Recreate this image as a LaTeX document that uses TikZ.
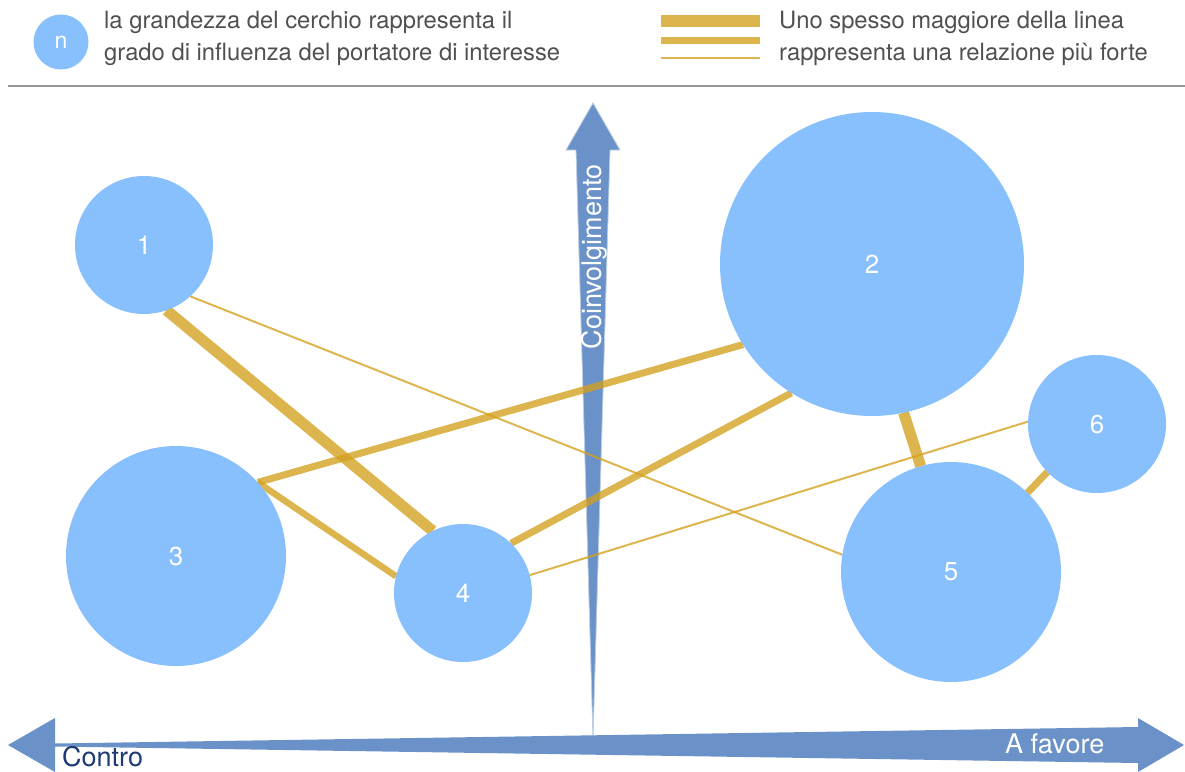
\documentclass[tikz,border=0pt]{standalone}
\usepackage{fontspec}
\setmainfont{TeX Gyre Heros}
\usepackage{tikz}
\usetikzlibrary{positioning}
\pgfdeclarelayer{axes}
\pgfdeclarelayer{background}
\pgfsetlayers{axes,background,main}
\definecolor{bubbleblue}{HTML}{88BFFD}
\definecolor{axisblue}{HTML}{6A92C8}
\definecolor{linkgold}{RGB}{212,160,30}
\definecolor{controblue}{HTML}{1F3B73}
\definecolor{legendgray}{HTML}{505050}

\begin{document}
\begin{tikzpicture}[x=1pt,y=-1pt,
							bubble/.style={circle, fill=bubbleblue, inner sep=0pt, outer sep=0pt, text=white, font=\fontsize{26}{26}\selectfont},
							link/.style={draw=linkgold, draw opacity=0.78},
							legendtext/.style={anchor=north west, align=left, inner sep=0pt, text=legendgray, font=\fontsize{23.8}{32}\selectfont},
							axislabel/.style={inner sep=0pt, font=\fontsize{27}{27}\selectfont},
							]
							\useasboundingbox (0,0) rectangle (1185,771);
							%Legend
							\node[bubble, minimum size=55pt, font=\fontsize{23}{23}\selectfont] (nkey) at (61,42) {n};
							\node[legendtext]     (sizekey)     at (104,11)     {la grandezza del cerchio rappresenta il\\grado di influenza del portatore di interesse};
							\node[legendtext]     (widthkey)    at (779,11)     {Uno spesso maggiore della linea\\rappresenta una relazione più forte};
							\draw[link, line width=12pt] (661,21) -- (760,21);
							\draw[link, line width=7pt] (661,40.5) -- (760,40.5);
							\draw[link, line width=2pt] (661,58) -- (760,58);
							\draw[color=black!40, line width=1.5pt] (8,86) -- (1185,86);
							
							%Nodes
							\node[bubble, minimum size=138pt]      (n1) 	at 	(144,245)       {1};
							\node[bubble, minimum size=304pt]      (n2) 	at 	(872,264)       {2};
							\node[bubble, minimum size=220pt]      (n3) 	at 	(176,556)       {3};
							\node[bubble, minimum size=138pt]      (n4) 	at 	(463,593)       {4};
							\node[bubble, minimum size=220pt]      (n5) 	at 	(951,572)       {5};
							\node[bubble, minimum size=138pt]      (n6) 	at 	(1097,424)      {6};
							
							\begin{pgfonlayer}{axes}
							\fill[axisblue, draw=white!55!axisblue, line width=0.8pt] (593,103) -- (620,150) -- (610,150) -- (593,738) -- (576,150) -- (566,150) -- cycle;
							\fill[axisblue] (8,745) -- (55,718) -- (55,743.5) -- (1138,727) -- (1138,718) -- (1184,745) -- (1138,772) -- (1138,763) -- (55,746.5) -- (55,772) -- cycle;
							\node[axislabel, rotate=90, text=white] (yaxis) at (594,257) {Coinvolgimento};
							\node[axislabel, anchor=base west, text=controblue] (contro) at (62,766) {Contro};
							\node[axislabel, anchor=base west, text=white] (afavore) at (1005,753) {A favore};
							\end{pgfonlayer}
							
							\begin{pgfonlayer}{background}
							\draw[link, line width=11pt] (n1.-71) -- (n4.116);
							\draw[link, line width=2pt] (n1.-48) -- (n5.171);
							\draw[link, line width=7pt] (n3.42) -- (n2.212);
							\draw[link, line width=6.5pt] (n3.42) -- (n4.166);
							\draw[link, line width=7pt] (n4.46) -- (n2.238);
							\draw[link, line width=2pt] (n4.15) -- (n6.178);
							\draw[link, line width=11pt] (n2.-78) -- (n5.106);
							\draw[link, line width=7pt] (n5.46) -- (n6.224);
							\end{pgfonlayer}
						\end{tikzpicture}
\end{document}
